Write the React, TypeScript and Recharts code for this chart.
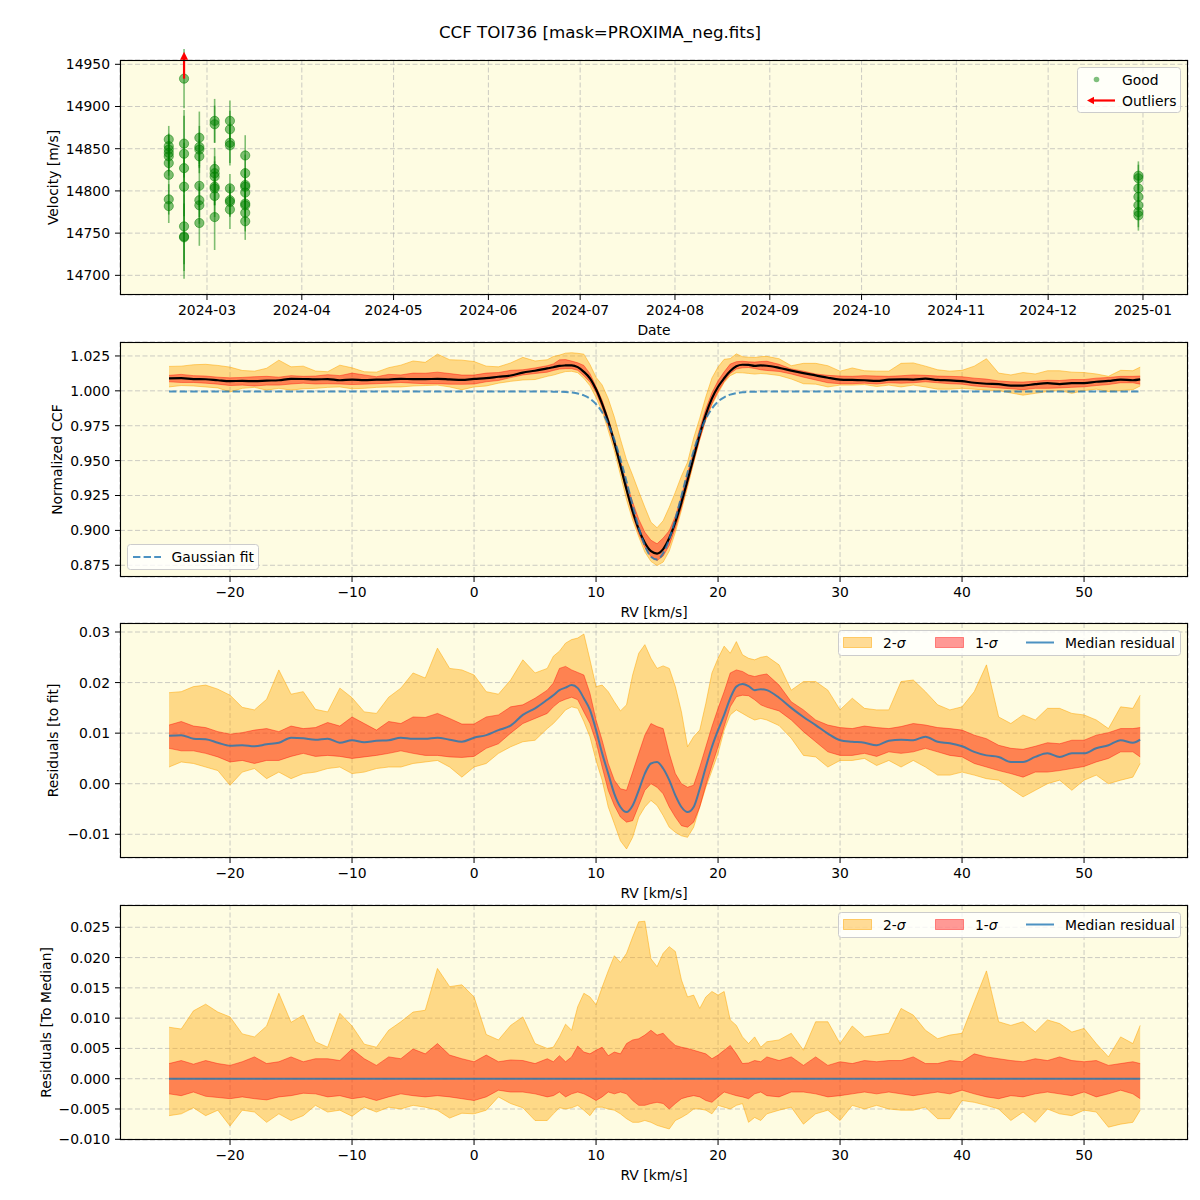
import React from "react";
import {
  Area,
  CartesianGrid,
  ComposedChart,
  ErrorBar,
  Line,
  ReferenceDot,
  ReferenceLine,
  Scatter,
  ScatterChart,
  XAxis,
  YAxis,
} from "recharts";

/* ---------- radial-velocity time series (top panel) ---------- */
const nightDates = [
  "2024-02-17T12:00:00Z",
  "2024-02-22T12:00:00Z",
  "2024-02-27T12:00:00Z",
  "2024-03-03T12:00:00Z",
  "2024-03-08T12:00:00Z",
  "2024-03-13T12:00:00Z",
  "2024-12-30T12:00:00Z",
];
const nightVelocities = [
  [14861, 14853, 14849, 14845, 14841, 14833, 14819, 14790, 14782],
  [14933, 14856, 14844, 14827, 14805, 14758, 14746, 14745],
  [14863, 14852, 14849, 14841, 14806, 14789, 14783, 14762],
  [14883, 14879, 14826, 14821, 14817, 14805, 14803, 14794, 14769],
  [14883, 14873, 14857, 14854, 14803, 14789, 14787, 14778],
  [14842, 14821, 14807, 14805, 14798, 14785, 14783, 14774, 14764],
  [14818, 14815, 14803, 14793, 14783, 14775, 14771],
];
const nightErrors = [
  [16, 15, 17, 16, 18, 15, 17, 18, 20],
  [35, 40, 45, 30, 35, 45, 50, 40],
  [31, 25, 20, 20, 25, 20, 22, 27],
  [26, 22, 25, 20, 18, 22, 20, 25, 39],
  [24, 22, 24, 24, 17, 18, 18, 23],
  [24, 22, 20, 20, 22, 20, 20, 22, 22],
  [17, 16, 15, 15, 16, 18, 18],
];
const outlierDates = ["2024-02-22T12:00:00Z"];
const outlierVelocities = [14933];
const monthTicks = [
  "2024-03", "2024-04", "2024-05", "2024-06", "2024-07", "2024-08",
  "2024-09", "2024-10", "2024-11", "2024-12", "2025-01",
];
const velocityTicks = [14700, 14750, 14800, 14850, 14900, 14950];

/* ---------- CCF profile on the RV grid (km/s) ---------- */
const rvGrid = [
  -25, -24, -23, -22, -21, -20, -19, -18, -17, -16,
  -15, -14, -13, -12, -11, -10, -9, -8, -7, -6,
  -5, -4, -3, -2, -1, 0, 1, 2, 3, 4, 5,
  6, 6.5, 7, 7.5, 8, 8.5, 9, 9.5, 10, 10.5, 11, 11.5,
  12, 12.5, 13, 13.5, 14, 14.5, 15, 15.5, 16, 16.5, 17, 17.5,
  18, 18.5, 19, 19.5, 20, 20.5, 21, 21.5, 22, 22.5, 23, 23.5, 24,
  25, 26, 27, 28, 29, 30, 31, 32, 33, 34,
  35, 36, 37, 38, 39, 40, 41, 42, 43, 44,
  45, 46, 47, 48, 49, 50, 51, 52, 53, 54,
  54.6,
];

const gaussFit = [
  0.9995, 0.9995, 0.9995, 0.9995, 0.9995, 0.9995, 0.9995, 0.9995, 0.9995, 0.9995,
  0.9995, 0.9995, 0.9995, 0.9995, 0.9995, 0.9995, 0.9995, 0.9995, 0.9995, 0.9995,
  0.9995, 0.9995, 0.9995, 0.9995, 0.9995, 0.9995, 0.9995, 0.9995, 0.9995, 0.9995, 0.9995,
  0.9995, 0.9994, 0.9994, 0.9992, 0.9988, 0.9981, 0.9967, 0.9944, 0.9905, 0.9847, 0.9762, 0.965,
  0.951, 0.9349, 0.918, 0.902, 0.8891, 0.8811, 0.8791, 0.8836, 0.8938, 0.9082, 0.9247, 0.9415,
  0.9569, 0.9698, 0.9799, 0.9873, 0.9923, 0.9954, 0.9973, 0.9984, 0.999, 0.9993, 0.9994, 0.9995, 0.9995,
  0.9995, 0.9995, 0.9995, 0.9995, 0.9995, 0.9995, 0.9995, 0.9995, 0.9995, 0.9995,
  0.9995, 0.9995, 0.9995, 0.9995, 0.9995, 0.9995, 0.9995, 0.9995, 0.9995, 0.9995,
  0.9995, 0.9995, 0.9995, 0.9995, 0.9995, 0.9995, 0.9995, 0.9995, 0.9995, 0.9995,
  0.9995,
];

// residuals of the observed CCFs to the Gaussian fit
const resMedian = [
  0.0095, 0.0096, 0.0089, 0.0088, 0.0081, 0.0075, 0.0076, 0.0074, 0.0078, 0.0081,
  0.0091, 0.009, 0.0087, 0.0089, 0.0081, 0.0086, 0.0082, 0.0085, 0.0086, 0.0091,
  0.0089, 0.0089, 0.0091, 0.0087, 0.0083, 0.0091, 0.0096, 0.0106, 0.0115, 0.0136, 0.0149,
  0.0166, 0.0175, 0.0185, 0.019, 0.0195, 0.0189, 0.0169, 0.0146, 0.0106, 0.006, 0.002, -0.002,
  -0.0046, -0.0056, -0.0043, -0.0013, 0.002, 0.004, 0.0043, 0.003, 0.0007, -0.0023, -0.0046, -0.0056,
  -0.0046, -0.001, 0.0033, 0.0073, 0.0106, 0.0136, 0.0169, 0.0192, 0.0197, 0.0193, 0.0185, 0.0187, 0.0185,
  0.017, 0.015, 0.0132, 0.0116, 0.0099, 0.0086, 0.0083, 0.0081, 0.0076, 0.0085,
  0.0087, 0.0086, 0.0093, 0.0083, 0.008, 0.0074, 0.0063, 0.0056, 0.0053, 0.0043,
  0.0043, 0.0053, 0.006, 0.0053, 0.006, 0.006, 0.007, 0.0076, 0.0086, 0.0081,
  0.0087,
];
const res1Hi = [
  0.0116, 0.0123, 0.0114, 0.0111, 0.0103, 0.0098, 0.0101, 0.0106, 0.0109, 0.0103,
  0.0114, 0.0109, 0.0111, 0.0121, 0.0114, 0.0132, 0.0119, 0.0106, 0.0123, 0.0119,
  0.0132, 0.0131, 0.0139, 0.0129, 0.0118, 0.0118, 0.0132, 0.0136, 0.0152, 0.0156, 0.0169,
  0.0185, 0.0199, 0.0228, 0.0232, 0.0225, 0.022, 0.0215, 0.0179, 0.0126, 0.0086, 0.004, 0.0007,
  -0.001, -0.0013, 0.0023, 0.006, 0.0096, 0.0119, 0.0113, 0.0109, 0.006, 0.002, 0.0, -0.0007,
  -0.0003, 0.0033, 0.0073, 0.0113, 0.0149, 0.0182, 0.0219, 0.0225, 0.0222, 0.0215, 0.0212, 0.0215, 0.0217,
  0.0195, 0.0162, 0.0146, 0.0126, 0.0116, 0.0111, 0.0109, 0.0114, 0.0111, 0.0109,
  0.0113, 0.0119, 0.0116, 0.0111, 0.0109, 0.0106, 0.0096, 0.0089, 0.0076, 0.007,
  0.0068, 0.0074, 0.0081, 0.0079, 0.0086, 0.0086, 0.0096, 0.0101, 0.0109, 0.0109,
  0.0111,
];
const res1Lo = [
  0.007, 0.0065, 0.0065, 0.006, 0.0053, 0.0043, 0.0046, 0.004, 0.0046, 0.0046,
  0.0054, 0.006, 0.0054, 0.0056, 0.0054, 0.005, 0.0053, 0.0056, 0.006, 0.0065,
  0.006, 0.0056, 0.0056, 0.0053, 0.0052, 0.0054, 0.007, 0.0079, 0.01, 0.0119, 0.0129,
  0.0139, 0.0152, 0.0162, 0.0167, 0.0171, 0.0166, 0.0142, 0.0119, 0.0083, 0.0033, -0.0013, -0.0043,
  -0.0066, -0.0076, -0.0073, -0.0043, -0.0013, 0.0, -0.0007, -0.002, -0.0046, -0.0066, -0.0083, -0.0086,
  -0.0076, -0.0046, -0.0003, 0.0036, 0.0073, 0.0113, 0.0152, 0.0172, 0.0175, 0.0174, 0.0166, 0.0156, 0.0151,
  0.0144, 0.0126, 0.0103, 0.0083, 0.0063, 0.0056, 0.0056, 0.006, 0.0054, 0.0063,
  0.006, 0.0063, 0.007, 0.0063, 0.0056, 0.0053, 0.004, 0.0033, 0.0026, 0.002,
  0.0013, 0.0023, 0.0023, 0.0026, 0.003, 0.0034, 0.0043, 0.005, 0.0063, 0.0063,
  0.0053,
];
const res2Hi = [
  0.018, 0.0182, 0.0192, 0.0195, 0.0187, 0.0175, 0.0151, 0.0146, 0.0167, 0.0225,
  0.0177, 0.0182, 0.0147, 0.0142, 0.0189, 0.017, 0.0142, 0.0139, 0.0171, 0.0189,
  0.0219, 0.0209, 0.0268, 0.0228, 0.0225, 0.0215, 0.0182, 0.0177, 0.0205, 0.0245, 0.0219,
  0.0228, 0.0252, 0.0262, 0.0278, 0.0285, 0.0288, 0.0296, 0.0245, 0.0192, 0.0195, 0.0182, 0.0162,
  0.0144, 0.0156, 0.0215, 0.0258, 0.0275, 0.0248, 0.0228, 0.0233, 0.0228, 0.0192, 0.0142, 0.0073,
  0.0093, 0.0106, 0.0159, 0.0219, 0.0248, 0.0272, 0.0258, 0.0281, 0.0255, 0.0248, 0.0245, 0.025, 0.0252,
  0.0235, 0.0185, 0.0202, 0.0202, 0.0185, 0.0146, 0.0169, 0.0149, 0.0146, 0.0146,
  0.0202, 0.0205, 0.0182, 0.0156, 0.0146, 0.0152, 0.0182, 0.0235, 0.0132, 0.0119,
  0.0136, 0.0126, 0.0149, 0.0149, 0.0139, 0.0136, 0.0126, 0.0109, 0.0152, 0.0149,
  0.0175,
];
const res2Lo = [
  0.0033, 0.0043, 0.004, 0.0033, 0.0026, -0.0003, 0.0023, 0.003, 0.001, 0.0023,
  0.001, 0.002, 0.0023, 0.003, 0.0033, 0.002, 0.0023, 0.003, 0.0033, 0.0033,
  0.004, 0.0043, 0.0046, 0.0033, 0.0013, 0.0033, 0.004, 0.006, 0.0073, 0.0083, 0.0086,
  0.0109, 0.0119, 0.0132, 0.0146, 0.0152, 0.0149, 0.0123, 0.0093, 0.0046, 0.0007, -0.0046, -0.0079,
  -0.0113, -0.0129, -0.0106, -0.0066, -0.0046, -0.0033, -0.0043, -0.0063, -0.0086, -0.0096, -0.0103, -0.0106,
  -0.0086, -0.0046, -0.0007, 0.0026, 0.006, 0.0106, 0.0136, 0.0146, 0.0139, 0.0132, 0.0126, 0.0129, 0.0126,
  0.0115, 0.009, 0.0056, 0.0053, 0.0033, 0.0046, 0.0046, 0.005, 0.0036, 0.0046,
  0.0033, 0.0046, 0.0033, 0.0017, 0.0017, 0.0023, 0.0017, 0.001, 0.0007, -0.001,
  -0.0026, -0.0013, 0.0, 0.0007, -0.0013, 0.0007, 0.0017, 0.0, 0.0007, 0.0013,
  0.004,
];

// residuals of the observed CCFs to their median profile
const dev1Hi = [
  0.0025, 0.003, 0.0024, 0.003, 0.0025, 0.0022, 0.0028, 0.0036, 0.0025, 0.0028,
  0.0036, 0.0028, 0.0033, 0.0033, 0.003, 0.0049, 0.0033, 0.0022, 0.0036, 0.0033,
  0.0049, 0.0041, 0.0058, 0.0039, 0.0033, 0.0028, 0.0039, 0.0028, 0.0031, 0.003, 0.0025,
  0.0033, 0.0028, 0.0038, 0.0028, 0.0036, 0.0054, 0.0044, 0.0041, 0.0047, 0.0052, 0.0038, 0.0044,
  0.0041, 0.0058, 0.0064, 0.0066, 0.0072, 0.008, 0.0072, 0.0075, 0.0064, 0.0055, 0.0052, 0.005,
  0.0047, 0.0044, 0.0041, 0.0033, 0.0039, 0.0047, 0.0055, 0.0041, 0.0025, 0.0026, 0.003, 0.0028, 0.0036,
  0.003, 0.0036, 0.0022, 0.0036, 0.0022, 0.0028, 0.0025, 0.003, 0.0028, 0.003,
  0.003, 0.0036, 0.0025, 0.0025, 0.003, 0.0028, 0.0041, 0.0036, 0.0033, 0.003,
  0.0028, 0.0033, 0.003, 0.0036, 0.003, 0.0028, 0.003, 0.0022, 0.0025, 0.0028,
  0.0025,
];
const dev1Lo = [
  -0.0025, -0.0028, -0.0022, -0.0029, -0.0031, -0.0033, -0.003, -0.0033, -0.0035, -0.003,
  -0.0028, -0.0024, -0.0025, -0.003, -0.0028, -0.0033, -0.003, -0.0036, -0.003, -0.0025,
  -0.0028, -0.003, -0.0028, -0.003, -0.0033, -0.0036, -0.003, -0.0019, -0.0022, -0.0022, -0.0025,
  -0.003, -0.0028, -0.0022, -0.003, -0.0025, -0.0022, -0.0025, -0.003, -0.0036, -0.003, -0.0022, -0.0025,
  -0.0022, -0.0025, -0.0036, -0.0044, -0.0044, -0.0041, -0.0039, -0.0041, -0.005, -0.0041, -0.0033, -0.003,
  -0.0028, -0.003, -0.0036, -0.0039, -0.003, -0.0022, -0.0025, -0.0028, -0.003, -0.0033, -0.0025, -0.0022, -0.0028,
  -0.003, -0.0022, -0.0022, -0.0025, -0.003, -0.0028, -0.0025, -0.0022, -0.0025, -0.0022,
  -0.0025, -0.0028, -0.0025, -0.0022, -0.0025, -0.0019, -0.0025, -0.003, -0.0033, -0.0028,
  -0.003, -0.0025, -0.0022, -0.0025, -0.0028, -0.0022, -0.003, -0.0025, -0.0019, -0.0025,
  -0.0033,
];
const dev2Hi = [
  0.0085, 0.0082, 0.0112, 0.0123, 0.011, 0.0102, 0.0074, 0.0069, 0.0087, 0.0141,
  0.0093, 0.0105, 0.0061, 0.0052, 0.0108, 0.0087, 0.0057, 0.0052, 0.008, 0.0094,
  0.011, 0.0113, 0.0182, 0.0152, 0.0155, 0.0135, 0.0073, 0.0064, 0.0088, 0.0102, 0.0058,
  0.005, 0.0052, 0.0069, 0.009, 0.008, 0.0119, 0.0141, 0.0135, 0.0122, 0.0151, 0.0178, 0.0203,
  0.0192, 0.0207, 0.0234, 0.0259, 0.026, 0.0198, 0.0185, 0.0207, 0.0218, 0.021, 0.0163, 0.0135,
  0.0138, 0.0116, 0.0135, 0.0144, 0.0138, 0.0144, 0.0097, 0.0088, 0.0069, 0.0058, 0.0069, 0.0052, 0.0061,
  0.0064, 0.0075, 0.0047, 0.0094, 0.0094, 0.0058, 0.0087, 0.0069, 0.0072, 0.0075,
  0.0116, 0.0105, 0.008, 0.0066, 0.0072, 0.0075, 0.0127, 0.0178, 0.0094, 0.0088,
  0.0094, 0.0077, 0.0097, 0.0091, 0.0077, 0.0083, 0.0058, 0.0036, 0.0069, 0.0058,
  0.0088,
];
const dev2Lo = [
  -0.0061, -0.0058, -0.0048, -0.0061, -0.0052, -0.0078, -0.0052, -0.0055, -0.0072, -0.0058,
  -0.0069, -0.0061, -0.0044, -0.0055, -0.0052, -0.0062, -0.0047, -0.0055, -0.0047, -0.005,
  -0.0044, -0.0047, -0.0052, -0.0065, -0.0057, -0.0058, -0.0052, -0.003, -0.0041, -0.0048, -0.0069,
  -0.0069, -0.0058, -0.0048, -0.005, -0.0048, -0.0044, -0.0052, -0.0061, -0.0047, -0.0047, -0.005, -0.0052,
  -0.0058, -0.0066, -0.0072, -0.0072, -0.0069, -0.0072, -0.0077, -0.008, -0.0083, -0.0069, -0.0064, -0.0058,
  -0.005, -0.005, -0.0052, -0.0058, -0.0044, -0.0047, -0.005, -0.0044, -0.0041, -0.0072, -0.0064, -0.0069, -0.0058,
  -0.0052, -0.0047, -0.0075, -0.0058, -0.0052, -0.0069, -0.0044, -0.005, -0.0044, -0.005,
  -0.0052, -0.0052, -0.0047, -0.0066, -0.0066, -0.0036, -0.0039, -0.0044, -0.005, -0.0069,
  -0.0055, -0.0072, -0.005, -0.0058, -0.0061, -0.0052, -0.0055, -0.008, -0.0075, -0.0072,
  -0.0052,
];

const rvTicks = [-20, -10, 0, 10, 20, 30, 40, 50];
const ccfTicks = [0.875, 0.9, 0.925, 0.95, 0.975, 1.0, 1.025];
const fitResTicks = [-0.01, 0, 0.01, 0.02, 0.03];
const medResTicks = [-0.01, -0.005, 0, 0.005, 0.01, 0.015, 0.02, 0.025];

/* ---------- tables for the charts ---------- */
const toTime = (s: string) => Date.parse(s);
const rvPoints = nightDates.flatMap((d, i) =>
  nightVelocities[i].map((v, j) => ({ t: toTime(d), v, err: nightErrors[i][j] })),
);
const outlierPoints = outlierDates.map((d, i) => ({ t: toTime(d), v: outlierVelocities[i] }));
const monthTimes = monthTicks.map((m) => toTime(`${m}-01T00:00:00Z`));
const monthLabel = new Map(monthTimes.map((t, i) => [t, monthTicks[i]]));

// the CCF panel shows fit + residual, so the bands share the residual arrays
const ccfRows = rvGrid.map((rv, i) => {
  const f = gaussFit[i];
  return {
    rv,
    fit: f,
    median: f + resMedian[i],
    s1: [f + res1Lo[i], f + res1Hi[i]],
    s2: [f + res2Lo[i], f + res2Hi[i]],
  };
});
const fitResRows = rvGrid.map((rv, i) => ({
  rv,
  median: resMedian[i],
  s1: [res1Lo[i], res1Hi[i]],
  s2: [res2Lo[i], res2Hi[i]],
}));
const medResRows = rvGrid.map((rv, i) => ({
  rv,
  s1: [dev1Lo[i], dev1Hi[i]],
  s2: [dev2Lo[i], dev2Hi[i]],
}));

/* ---------- layout & style ---------- */
const FONT = "DejaVu Sans";
const FS = 13.9;
const CHART_W = 1200;
const PLOT_L = 120;
const PLOT_R = 1188;
const PLOT_H = 235;
const Y_AXIS_W = 60;
const X_AXIS_H = 30;
const MARGIN = { top: 20, right: CHART_W - PLOT_R, bottom: 5, left: PLOT_L - Y_AXIS_W };
const CHART_H = MARGIN.top + PLOT_H + X_AXIS_H + MARGIN.bottom;
const TOPS = [60, 342, 623, 905];
const PLOT_CX = (PLOT_L + PLOT_R) / 2;

const PLOT_BG = "#FEFCE2";
const BLUE = "#1f77b4";
const DAY = 86400000;
const MAR1 = toTime("2024-03-01T00:00:00Z");
const TIME_DOMAIN = [MAR1 - 28.44 * DAY, MAR1 + 320.72 * DAY];
const RV_DOMAIN = [-29.02, 58.52];

const tickStyle = { fill: "#000", fontSize: FS, fontFamily: FONT };
const tickLine = { stroke: "#000", strokeWidth: 1 };
const gridProps = {
  fill: PLOT_BG,
  fillOpacity: 1,
  stroke: "#b0b0b0",
  strokeOpacity: 0.65,
  strokeDasharray: "5 2.5",
};
const band2 = { fill: "orange", fillOpacity: 0.4, stroke: "orange", strokeOpacity: 0.5, strokeWidth: 1 };
const band1 = { fill: "red", fillOpacity: 0.4, stroke: "red", strokeOpacity: 0.4, strokeWidth: 1 };

const signed = (digits: number) => (v: number) =>
  `${v < 0 ? "\u2212" : ""}${Math.abs(v).toFixed(digits)}`;

const boxAt = (top: number): React.CSSProperties => ({
  position: "absolute",
  left: 0,
  top: top - MARGIN.top,
});

const rvAxis = () => (
  <XAxis
    dataKey="rv"
    type="number"
    domain={RV_DOMAIN}
    ticks={rvTicks}
    interval={0}
    allowDataOverflow
    height={X_AXIS_H}
    axisLine={false}
    tickLine={tickLine}
    tickSize={5}
    tickMargin={5}
    tick={tickStyle}
    tickFormatter={signed(0)}
  />
);

const valueAxis = (domain: number[], ticks: number[], digits: number) => (
  <YAxis
    type="number"
    domain={domain}
    ticks={ticks}
    interval={0}
    allowDataOverflow
    width={Y_AXIS_W}
    axisLine={false}
    tickLine={tickLine}
    tickSize={5}
    tickMargin={5}
    tick={tickStyle}
    tickFormatter={signed(digits)}
  />
);

const GoodDot = (props: any) => (
  <circle
    cx={props.cx}
    cy={props.cy}
    r={4.6}
    fill="green"
    fillOpacity={0.5}
    stroke="green"
    strokeOpacity={0.5}
    strokeWidth={1}
  />
);

// upward arrow marking a point flagged as outlier
const OutlierArrow = (props: any) => {
  const { cx, cy } = props;
  const tip = cy - 27;
  return (
    <g>
      <line x1={cx} y1={cy} x2={cx} y2={tip + 7} stroke="red" strokeWidth={2.2} />
      <polygon points={`${cx - 4},${tip + 8} ${cx + 4},${tip + 8} ${cx},${tip}`} fill="red" />
    </g>
  );
};

const legendBox = { fill: "#fff", fillOpacity: 0.8, stroke: "#cccccc", strokeWidth: 1 };
const textProps = { fontFamily: FONT, fontSize: FS, fill: "#000", dominantBaseline: "central" as const };

function BandLegend({ top }: { top: number }) {
  const cy = top + 19.5;
  return (
    <g>
      <rect x={838.5} y={top + 7.5} width={342} height={25} rx={3} {...legendBox} />
      <rect x={843.5} y={cy - 5} width={28} height={10} {...band2} />
      <text x={883} y={cy} {...textProps}>
        2-<tspan fontStyle="italic">σ</tspan>
      </text>
      <rect x={935.5} y={cy - 5} width={28} height={10} {...band1} />
      <text x={975} y={cy} {...textProps}>
        1-<tspan fontStyle="italic">σ</tspan>
      </text>
      <line x1={1026} x2={1054} y1={cy} y2={cy} stroke={BLUE} strokeOpacity={0.8} strokeWidth={2} />
      <text x={1065} y={cy} {...textProps}>
        Median residual
      </text>
    </g>
  );
}

function Overlay() {
  const yLabels = [
    { text: "Velocity [m/s]", x: 53 },
    { text: "Normalized CCF", x: 57 },
    { text: "Residuals [to fit]", x: 53 },
    { text: "Residuals [To Median]", x: 46 },
  ];
  const xLabels = ["Date", "RV [km/s]", "RV [km/s]", "RV [km/s]"];
  return (
    <svg
      width={1200}
      height={1200}
      style={{ position: "absolute", left: 0, top: 0, pointerEvents: "none" }}
    >
      <text x={600} y={32} fontFamily={FONT} fontSize={16.7} textAnchor="middle" dominantBaseline="central">
        CCF TOI736 [mask=PROXIMA_neg.fits]
      </text>

      {TOPS.map((top, i) => (
        <g key={top}>
          <rect
            x={PLOT_L + 0.5}
            y={top + 0.5}
            width={PLOT_R - PLOT_L - 1}
            height={PLOT_H - 1}
            fill="none"
            stroke="#000"
            strokeWidth={1.1}
          />
          <text x={PLOT_CX} y={top + PLOT_H + 35} textAnchor="middle" {...textProps}>
            {xLabels[i]}
          </text>
          <text
            x={yLabels[i].x}
            y={top + PLOT_H / 2}
            textAnchor="middle"
            transform={`rotate(-90 ${yLabels[i].x} ${top + PLOT_H / 2})`}
            {...textProps}
          >
            {yLabels[i].text}
          </text>
        </g>
      ))}

      {/* velocity panel legend */}
      <g>
        <rect x={1077.5} y={67.5} width={103} height={45} rx={3} {...legendBox} />
        <circle cx={1096.5} cy={79.5} r={2.8} fill="green" fillOpacity={0.5} />
        <text x={1122} y={79.5} {...textProps}>
          Good
        </text>
        <line x1={1115} x2={1093} y1={100.5} y2={100.5} stroke="red" strokeWidth={2.2} />
        <polygon points="1087,100.5 1094,96.8 1094,104.2" fill="red" />
        <text x={1122} y={100.5} {...textProps}>
          Outliers
        </text>
      </g>

      {/* CCF panel legend */}
      <g>
        <rect x={127.5} y={544.5} width={131} height={25} rx={3} {...legendBox} />
        <line
          x1={133}
          x2={161}
          y1={557}
          y2={557}
          stroke={BLUE}
          strokeOpacity={0.8}
          strokeWidth={2}
          strokeDasharray="7.4 3.2"
        />
        <text x={171.5} y={557} {...textProps}>
          Gaussian fit
        </text>
      </g>

      <BandLegend top={TOPS[2]} />
      <BandLegend top={TOPS[3]} />
    </svg>
  );
}

export default function App() {
  return (
    <div
      style={{
        position: "absolute",
        left: 0,
        top: 0,
        width: 1200,
        height: 1200,
        background: "#fff",
        overflow: "hidden",
      }}
    >
      {/* velocity vs. date */}
      <div style={boxAt(TOPS[0])}>
        <ScatterChart width={CHART_W} height={CHART_H} margin={MARGIN}>
          <CartesianGrid {...gridProps} />
          <XAxis
            dataKey="t"
            type="number"
            domain={TIME_DOMAIN}
            ticks={monthTimes}
            interval={0}
            allowDataOverflow
            height={X_AXIS_H}
            axisLine={false}
            tickLine={tickLine}
            tickSize={5}
            tickMargin={5}
            tick={tickStyle}
            tickFormatter={(t: number) => monthLabel.get(t) ?? ""}
          />
          <YAxis
            dataKey="v"
            type="number"
            domain={[14676.7, 14955.1]}
            ticks={velocityTicks}
            interval={0}
            allowDataOverflow
            width={Y_AXIS_W}
            axisLine={false}
            tickLine={tickLine}
            tickSize={5}
            tickMargin={5}
            tick={tickStyle}
          />
          <Scatter data={rvPoints} shape={GoodDot} isAnimationActive={false}>
            <ErrorBar
              dataKey="err"
              direction="y"
              width={0}
              stroke="rgba(0,128,0,0.5)"
              strokeWidth={1.6}
              isAnimationActive={false}
            />
          </Scatter>
          {outlierPoints.map((p) => (
            <ReferenceDot
              key={p.t}
              x={p.t}
              y={p.v}
              ifOverflow="visible"
              shape={OutlierArrow}
            />
          ))}
        </ScatterChart>
      </div>

      {/* normalized CCF */}
      <div style={boxAt(TOPS[1])}>
        <ComposedChart width={CHART_W} height={CHART_H} data={ccfRows} margin={MARGIN}>
          <CartesianGrid {...gridProps} />
          {rvAxis()}
          {valueAxis([0.8666, 1.035], ccfTicks, 3)}
          <Area type="linear" dataKey="s2" {...band2} isAnimationActive={false} />
          <Area type="linear" dataKey="s1" {...band1} isAnimationActive={false} />
          <Line type="monotone" dataKey="median" stroke="#000" strokeWidth={2.2} dot={false} isAnimationActive={false} />
          <Line
            type="monotone"
            dataKey="fit"
            stroke={BLUE}
            strokeOpacity={0.8}
            strokeWidth={2}
            strokeDasharray="7.4 3.2"
            dot={false}
            isAnimationActive={false}
          />
        </ComposedChart>
      </div>

      {/* residuals to the fit */}
      <div style={boxAt(TOPS[2])}>
        <ComposedChart width={CHART_W} height={CHART_H} data={fitResRows} margin={MARGIN}>
          <CartesianGrid {...gridProps} />
          {rvAxis()}
          {valueAxis([-0.01469, 0.03178], fitResTicks, 2)}
          <Area type="linear" dataKey="s2" {...band2} isAnimationActive={false} />
          <Area type="linear" dataKey="s1" {...band1} isAnimationActive={false} />
          <Line
            type="monotone"
            dataKey="median"
            stroke={BLUE}
            strokeOpacity={0.8}
            strokeWidth={2}
            dot={false}
            isAnimationActive={false}
          />
        </ComposedChart>
      </div>

      {/* residuals to the median profile */}
      <div style={boxAt(TOPS[3])}>
        <ComposedChart width={CHART_W} height={CHART_H} data={medResRows} margin={MARGIN}>
          <CartesianGrid {...gridProps} />
          {rvAxis()}
          {valueAxis([-0.01012, 0.02868], medResTicks, 3)}
          <Area type="linear" dataKey="s2" {...band2} isAnimationActive={false} />
          <Area type="linear" dataKey="s1" {...band1} isAnimationActive={false} />
          <ReferenceLine
            segment={[
              { x: rvGrid[0], y: 0 },
              { x: rvGrid[rvGrid.length - 1], y: 0 },
            ]}
            stroke={BLUE}
            strokeOpacity={0.8}
            strokeWidth={2}
          />
        </ComposedChart>
      </div>

      <Overlay />
    </div>
  );
}
